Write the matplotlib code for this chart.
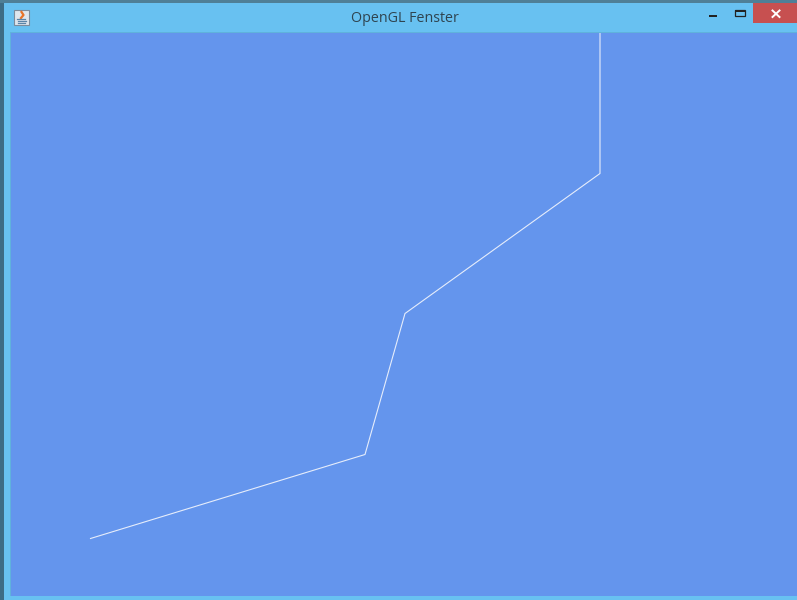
import matplotlib
matplotlib.use("Agg")
import matplotlib.pyplot as plt
from matplotlib.patches import Rectangle

W, H = 797, 600
title = "OpenGL Fenster"
path_x = [90.5, 365, 405, 600, 600]
path_y = [538.5, 454.5, 313.5, 173.5, 33]

fig = plt.figure(figsize=(W / 100, H / 100), dpi=100, facecolor="#3d6c86")

# Full-figure overlay in pixel coordinates (window chrome)
bg = fig.add_axes([0, 0, 1, 1])
bg.set_xlim(0, W)
bg.set_ylim(H, 0)
bg.axis("off")

def box(x, y, w, h, color, z=1, **kw):
    bg.add_patch(Rectangle((x, y), w, h, facecolor=color, edgecolor="none", zorder=z, **kw))

box(0, 0, W, 3, "#4f7f97")
box(4, 3, W - 4, H - 3, "#68c1f1")
box(10, 31.5, W - 10, 1, "#5fb2dc", z=2)
box(10, 31.5, 1, H - 36, "#5fb2dc", z=2)
box(753, 3, 44, 20, "#c75050", z=2)

# Caption
bg.text(404.5, 18, title, ha="center", va="center", fontsize=10.3,
        family="Open Sans", color="#2f4450", zorder=5)

# Close glyph
bg.plot([772.5, 779.5], [10.5, 17], color="white", lw=1.4, zorder=5)
bg.plot([772.5, 779.5], [17, 10.5], color="white", lw=1.4, zorder=5)
# Minimise
bg.add_patch(Rectangle((709, 15), 8, 2, facecolor="#222222", edgecolor="none", zorder=5))
# Maximise
bg.add_patch(Rectangle((735.5, 9.5), 9.5, 6.5, facecolor="none", edgecolor="#222222", lw=0.9, zorder=5))
bg.add_patch(Rectangle((735.5, 9.5), 9.5, 2, facecolor="#222222", edgecolor="none", zorder=5))

# App icon
bg.add_patch(Rectangle((14.5, 10), 14.5, 14.5, facecolor="#dfe6ee", edgecolor="#7c8c9c", lw=0.8, zorder=5))
bg.plot([21, 23.5, 21.5], [18, 15, 12], color="#e8732a", lw=1.6, zorder=6)
for yy, xa, xb in [(19, 17.5, 25.5), (20.8, 18, 26.5), (22.5, 18.5, 25)]:
    bg.plot([xa, xb], [yy, yy], color="#5a84a8", lw=0.9, zorder=6)

# Drawing surface
x0, x1 = 11, 797
y0, y1 = 32.5, 596
ax = fig.add_axes([x0 / W, 1 - y1 / H, (x1 - x0) / W, (y1 - y0) / H], zorder=3)
ax.set_facecolor("#6495ed")
ax.set_xlim(x0, x1)
ax.set_ylim(y1, y0)
ax.set_xticks([])
ax.set_yticks([])
for s in ax.spines.values():
    s.set_visible(False)
ax.plot(path_x, path_y, color="#e6edfb", lw=0.8, solid_joinstyle="miter", clip_on=True)

fig.savefig("out.png", dpi=100, facecolor=fig.get_facecolor())
